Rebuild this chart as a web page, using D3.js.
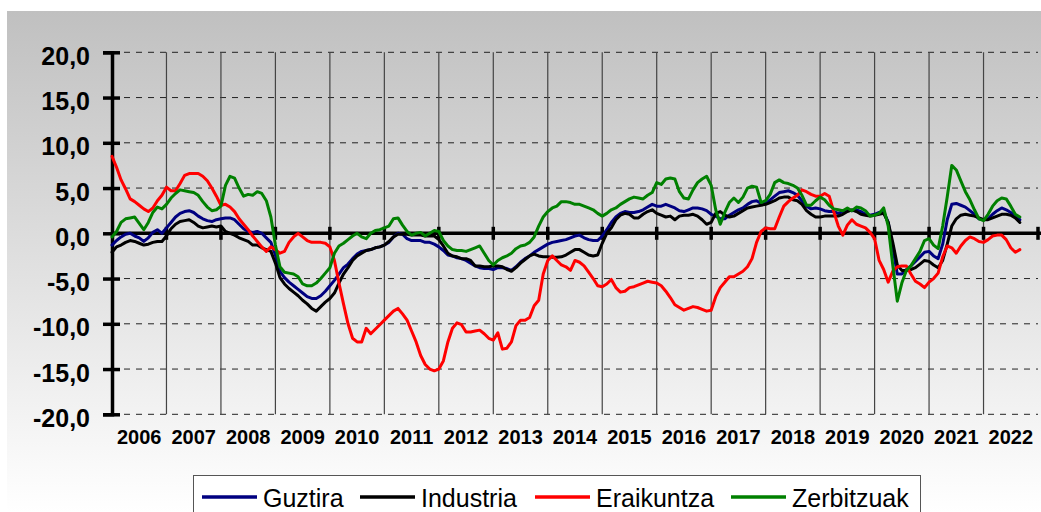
<!DOCTYPE html>
<html>
<head>
<meta charset="utf-8">
<script src="https://cdn.jsdelivr.net/npm/d3@7"></script>
<style>
  body { margin: 0; background: #ffffff; }
  svg { display: block; font-family: "Liberation Sans", Arial, sans-serif; }
</style>
</head>
<body>
<svg id="chart" width="1041" height="512"></svg>
<script>
// monthly values, January 2006 onwards
var years = ["2006","2007","2008","2009","2010","2011","2012","2013","2014","2015","2016","2017","2018","2019","2020","2021","2022"];
var yTicks = [-20, -15, -10, -5, 0, 5, 10, 15, 20];
var seriesNames = ["Guztira", "Industria", "Eraikuntza", "Zerbitzuak"];
var seriesColors = ["#000080", "#000000", "#ff0000", "#008000"];

var guztira = [
 -1.3,-0.8,-0.4,-0.1,0.0,-0.3,-0.5,-0.9,-0.5,0.1,0.4,0.0,
 0.6,1.2,1.8,2.2,2.4,2.5,2.3,1.9,1.6,1.4,1.3,1.5,
 1.6,1.7,1.7,1.5,1.0,0.5,0.2,0.1,0.2,0.0,-0.5,-1.0,
 -2.4,-4.2,-4.9,-5.4,-5.8,-6.2,-6.6,-7.0,-7.2,-7.2,-6.9,-6.4,
 -5.8,-5.2,-4.5,-3.8,-3.4,-2.8,-2.3,-2.0,-1.9,-1.8,-1.6,-1.5,
 -1.3,-1.0,-0.4,0.0,-0.1,-0.6,-0.8,-0.8,-0.8,-1.0,-1.0,-1.2,
 -1.5,-1.9,-2.4,-2.5,-2.7,-2.8,-3.0,-3.3,-3.6,-3.8,-3.9,-3.9,
 -4.0,-3.8,-3.8,-3.9,-4.1,-3.7,-3.2,-2.8,-2.5,-2.1,-1.8,-1.5,
 -1.2,-1.0,-0.9,-0.8,-0.7,-0.5,-0.3,-0.2,-0.5,-0.7,-0.8,-0.8,
 -0.3,0.4,1.2,1.8,2.2,2.4,2.3,2.3,2.4,2.6,2.9,3.2,
 3.0,3.0,3.2,3.0,2.8,2.5,2.4,2.6,2.8,2.8,2.7,2.5,
 2.1,1.9,1.6,1.6,2.0,2.3,2.6,2.8,3.2,3.5,3.6,3.3,
 3.3,3.7,4.1,4.5,4.6,4.7,4.5,4.2,3.6,3.0,2.7,2.8,
 2.7,2.5,2.4,2.4,2.2,2.4,2.6,2.5,2.6,2.4,2.1,2.0,
 2.1,2.3,2.4,1.2,-1.5,-4.5,-4.5,-4.0,-3.6,-3.1,-2.6,-2.1,
 -2.0,-2.5,-2.8,-1.2,1.5,3.2,3.3,3.1,2.9,2.5,2.1,1.6,
 1.5,1.6,2.1,2.5,2.8,2.6,2.3,1.9,1.5
];

var industria = [
 -2.1,-1.5,-1.3,-1.0,-0.8,-0.9,-1.1,-1.3,-1.2,-1.0,-0.9,-0.9,
 -0.3,0.5,1.0,1.3,1.4,1.5,1.2,0.8,0.6,0.7,0.8,0.7,
 0.8,0.2,0.0,-0.2,-0.5,-0.7,-0.9,-1.3,-1.3,-1.6,-1.8,-2.0,
 -3.3,-4.9,-5.6,-6.1,-6.5,-6.9,-7.4,-7.8,-8.3,-8.6,-8.1,-7.6,
 -7.2,-6.6,-5.5,-4.5,-3.8,-3.0,-2.5,-2.2,-1.9,-1.8,-1.6,-1.5,
 -1.3,-0.9,-0.4,-0.1,-0.1,-0.1,-0.2,-0.2,-0.2,-0.3,-0.3,-0.3,
 -0.7,-1.4,-2.2,-2.5,-2.6,-2.8,-2.8,-3.0,-3.6,-3.6,-3.7,-3.7,
 -3.6,-3.6,-3.7,-4.0,-4.2,-3.8,-3.3,-2.9,-2.5,-2.3,-2.5,-2.6,
 -2.6,-2.65,-2.65,-2.6,-2.4,-2.1,-1.8,-1.8,-2.1,-2.4,-2.5,-2.4,
 -1.1,0.0,0.6,1.5,2.0,2.2,2.1,1.7,1.7,2.1,2.4,2.6,
 2.2,2.0,1.8,1.9,1.5,1.9,2.0,2.0,2.1,1.9,1.5,1.0,
 1.2,2.2,2.4,2.0,1.8,1.9,2.2,2.5,2.8,2.9,3.0,3.1,
 3.2,3.4,3.6,3.9,4.0,4.0,3.7,3.6,3.2,2.5,2.1,1.8,
 1.8,1.9,1.9,1.9,1.9,2.1,2.4,2.6,2.4,2.1,2.0,1.9,
 2.0,2.1,2.2,1.2,-1.0,-3.5,-4.1,-4.1,-4.0,-3.8,-3.4,-3.0,
 -3.1,-3.5,-3.8,-3.0,-1.2,0.8,1.6,2.0,2.1,2.0,1.9,1.7,
 1.5,1.5,1.7,1.9,2.1,2.1,2.0,1.7,1.2
];

var eraikuntza = [
 8.5,7.3,5.9,4.9,3.8,3.5,3.1,2.7,2.4,2.8,3.6,4.2,
 5.1,4.7,4.7,5.5,6.4,6.6,6.6,6.6,6.3,5.8,5.0,4.1,
 3.1,3.2,2.9,2.4,1.6,1.0,0.4,-0.3,-0.9,-1.5,-2.0,-1.5,
 -1.8,-2.2,-2.0,-1.0,-0.4,0.0,-0.4,-0.8,-1.0,-1.0,-1.0,-1.1,
 -1.5,-3.0,-5.5,-7.8,-10.0,-11.6,-12.0,-12.0,-10.5,-11.1,-10.6,-10.1,
 -9.6,-9.1,-8.6,-8.3,-8.9,-9.6,-10.8,-12.0,-13.5,-14.5,-15.0,-15.2,
 -15.0,-14.1,-12.0,-10.5,-9.9,-10.1,-10.9,-10.9,-10.8,-10.7,-11.1,-11.6,
 -11.8,-11.0,-12.8,-12.7,-12.0,-10.2,-9.6,-9.6,-9.3,-8.0,-7.4,-4.5,
 -3.0,-2.5,-3.0,-3.5,-3.7,-4.1,-3.0,-3.2,-3.6,-4.3,-5.0,-5.8,
 -5.9,-5.6,-5.1,-6.0,-6.5,-6.4,-6.0,-5.9,-5.7,-5.5,-5.3,-5.4,
 -5.5,-5.8,-6.4,-7.1,-7.9,-8.2,-8.5,-8.3,-8.1,-8.2,-8.4,-8.6,
 -8.5,-7.0,-6.0,-5.4,-4.8,-4.8,-4.5,-4.2,-3.7,-2.8,-1.0,0.2,
 0.6,0.5,0.5,1.8,3.0,3.5,3.9,4.2,4.8,4.6,4.3,4.1,
 4.1,4.4,4.1,2.4,0.8,-0.2,0.9,1.5,1.0,0.8,0.6,0.1,
 -0.6,-3.0,-4.0,-5.4,-4.2,-3.7,-3.6,-3.6,-4.5,-5.3,-5.6,-6.0,
 -5.4,-5.0,-4.4,-2.6,-1.4,-1.6,-2.2,-1.4,-0.8,-0.4,-0.6,-0.9,
 -1.0,-0.7,-0.3,-0.2,-0.2,-0.7,-1.6,-2.1,-1.8
];

var zerbitzuak = [
 -0.4,0.2,1.2,1.6,1.7,1.8,1.1,0.4,1.2,2.3,2.9,2.7,
 3.2,3.9,4.4,4.8,4.7,4.6,4.5,4.2,3.5,2.9,2.5,2.6,
 3.0,5.3,6.3,6.1,5.0,4.1,4.3,4.2,4.6,4.4,3.6,1.8,
 -1.3,-3.7,-4.3,-4.4,-4.5,-4.8,-5.6,-5.8,-5.8,-5.5,-5.0,-4.4,
 -3.8,-2.2,-1.4,-1.1,-0.7,-0.3,0.0,-0.4,-0.6,0.0,0.3,0.4,
 0.6,0.8,1.6,1.7,0.9,0.2,-0.2,0.0,0.1,-0.3,0.0,0.3,
 0.2,-0.8,-1.4,-1.8,-1.9,-1.9,-2.0,-1.8,-1.6,-1.4,-2.2,-3.0,
 -3.5,-3.0,-2.7,-2.5,-2.2,-1.7,-1.4,-1.3,-1.0,-0.4,0.8,1.8,
 2.4,2.8,3.0,3.5,3.5,3.4,3.2,3.2,3.0,2.8,2.6,2.2,
 1.9,2.2,2.6,2.8,3.2,3.5,3.8,4.0,3.9,3.8,4.2,4.5,
 5.6,5.4,6.0,6.1,6.0,4.6,3.9,3.8,4.8,5.6,6.0,6.3,
 5.3,2.6,1.0,2.3,3.4,3.9,3.4,4.0,5.0,5.2,5.1,3.4,
 3.6,4.3,5.6,5.9,5.6,5.5,5.3,5.0,4.2,3.1,3.1,3.6,
 4.0,3.7,3.1,2.7,2.6,2.5,2.8,2.5,2.9,2.8,2.5,1.9,
 2.0,2.2,2.8,0.8,-3.5,-7.5,-5.5,-4.1,-3.6,-2.8,-2.0,-0.8,
 -0.6,-1.3,-1.7,0.8,4.0,7.5,7.0,5.8,4.6,3.7,2.6,1.6,
 1.4,2.1,3.0,3.6,3.9,3.8,3.0,2.1,1.8
];

var allSeries = [guztira, industria, eraikuntza, zerbitzuak];

var svg = d3.select("#chart");

var plotLeft = 112, plotRight = 1038, plotTop = 52.3, plotBottom = 414.3;

var x = d3.scaleLinear().domain([0, years.length * 12]).range([plotLeft, plotRight]);
var xYear = d3.scaleBand().domain(years).range([plotLeft, plotRight]);
var y = d3.scaleLinear().domain([-20, 20]).range([plotBottom, plotTop]);

// background
var grad = svg.append("defs").append("linearGradient")
    .attr("id", "bg")
    .attr("x1", 0).attr("y1", 0).attr("x2", 0).attr("y2", 1);
grad.append("stop").attr("offset", "0%").attr("stop-color", "#c0c0c0");
grad.append("stop").attr("offset", "100%").attr("stop-color", "#ffffff");

svg.append("rect")
    .attr("x", 7).attr("y", 11)
    .attr("width", 1034).attr("height", 501)
    .attr("fill", "url(#bg)");

// dashed horizontal grid
svg.append("g")
    .selectAll("line")
    .data(yTicks.filter(function(d){ return d != 0 }))
    .enter()
    .append("line")
    .attr("x1", plotLeft).attr("x2", plotRight)
    .attr("y1", function(d){ return y(d) })
    .attr("y2", function(d){ return y(d) })
    .attr("stroke", "#222")
    .attr("stroke-width", 1)
    .attr("stroke-dasharray", "6,6");

// year separators
svg.append("g")
    .selectAll("line")
    .data(years.slice(1))
    .enter()
    .append("line")
    .attr("x1", function(d){ return xYear(d) })
    .attr("x2", function(d){ return xYear(d) })
    .attr("y1", plotTop).attr("y2", plotBottom)
    .attr("stroke", "#444")
    .attr("stroke-width", 1.2);

// y axis
var yAxis = d3.axisLeft(y)
    .tickValues(yTicks)
    .tickSize(9)
    .tickPadding(13)
    .tickFormat(function(d){ return d.toFixed(1).replace(".", ",") });

var gy = svg.append("g")
    .attr("transform", "translate(" + plotLeft + ",0)")
    .call(yAxis);
gy.select(".domain").attr("stroke", "#000").attr("stroke-width", 3.5);
gy.selectAll(".tick line").attr("x1", 8).attr("stroke", "#000").attr("stroke-width", 3.5);
gy.selectAll(".tick text")
    .attr("dy", "0.48em")
    .attr("fill", "#000")
    .style("font-size", "25px")
    .style("font-weight", "bold");

// zero line with year ticks
svg.append("line")
    .attr("x1", plotLeft).attr("x2", 1041)
    .attr("y1", y(0)).attr("y2", y(0))
    .attr("stroke", "#000").attr("stroke-width", 3.5);

svg.append("g")
    .selectAll("line")
    .data(years.slice(1).concat(["end"]))
    .enter()
    .append("line")
    .attr("x1", function(d){ return d == "end" ? plotRight : xYear(d) })
    .attr("x2", function(d){ return d == "end" ? plotRight : xYear(d) })
    .attr("y1", y(0) - 6.5).attr("y2", y(0) + 6.5)
    .attr("stroke", "#000").attr("stroke-width", 3.5);

// x axis labels
var xAxis = d3.axisBottom(xYear).tickSize(0).tickPadding(0);
var gx = svg.append("g")
    .attr("transform", "translate(0," + 430 + ")")
    .call(xAxis);
gx.select(".domain").remove();
gx.selectAll(".tick text")
    .attr("dy", "0.72em")
    .attr("fill", "#000")
    .style("font-size", "20px")
    .style("font-weight", "bold");

// series
var lineGenerator = d3.line()
    .x(function(d, i){ return x(i) })
    .y(function(d){ return y(d) });

svg.append("g")
    .selectAll("path")
    .data(allSeries)
    .enter()
    .append("path")
    .attr("d", lineGenerator)
    .attr("fill", "none")
    .attr("stroke", function(d, i){ return seriesColors[i] })
    .attr("stroke-width", 3)
    .attr("stroke-linejoin", "round")
    .attr("stroke-linecap", "round");

// legend
var legend = svg.append("g");
legend.append("rect")
    .attr("x", 193.5).attr("y", 475.5)
    .attr("width", 727).attr("height", 50)
    .attr("fill", "#ffffff")
    .attr("stroke", "#555")
    .attr("stroke-width", 1);

var legendX = [202, 360, 535, 731];
var items = legend.selectAll("g.item")
    .data(seriesNames)
    .enter()
    .append("g")
    .attr("transform", function(d, i){ return "translate(" + legendX[i] + ",0)" });

items.append("line")
    .attr("x1", 0).attr("x2", 55)
    .attr("y1", 497).attr("y2", 497)
    .attr("stroke", function(d, i){ return seriesColors[i] })
    .attr("stroke-width", 3.5);

items.append("text")
    .attr("x", 61).attr("y", 507)
    .attr("fill", "#000")
    .style("font-size", "25px")
    .text(function(d){ return d });
</script>
</body>
</html>
